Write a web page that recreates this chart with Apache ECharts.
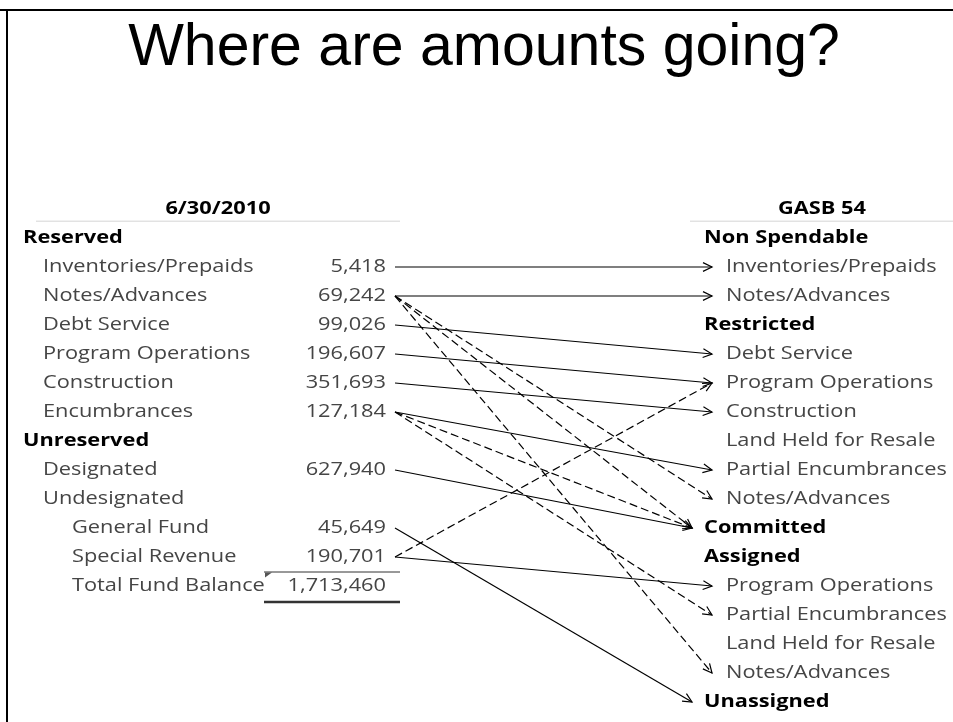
<!DOCTYPE html>
<html>
<head>
<meta charset="utf-8">
<script src="https://cdn.jsdelivr.net/npm/echarts@6/dist/echarts.min.js"></script>
<style>
  html, body { margin: 0; padding: 0; background: #fff; }
  #main { width: 953px; height: 722px; }
</style>
</head>
<body>
<div id="main"></div>
<script>
// rows of the old (6/30/2010) fund balance table
var leftHeader = "6/30/2010";
var leftLabels = ["Reserved", "Inventories/Prepaids", "Notes/Advances", "Debt Service", "Program Operations",
    "Construction", "Encumbrances", "Unreserved", "Designated", "Undesignated", "General Fund",
    "Special Revenue", "Total Fund Balance"];
var leftLevels = [0, 1, 1, 1, 1, 1, 1, 0, 1, 1, 2, 2, 2];
var leftAmounts = [null, 5418, 69242, 99026, 196607, 351693, 127184, null, 627940, null, 45649, 190701, 1713460];

// rows of the GASB 54 classification
var rightHeader = "GASB 54";
var rightLabels = ["Non Spendable", "Inventories/Prepaids", "Notes/Advances", "Restricted", "Debt Service",
    "Program Operations", "Construction", "Land Held for Resale", "Partial Encumbrances", "Notes/Advances",
    "Committed", "Assigned", "Program Operations", "Partial Encumbrances", "Land Held for Resale",
    "Notes/Advances", "Unassigned"];
var rightLevels = [0, 1, 1, 0, 1, 1, 1, 1, 1, 1, 0, 0, 1, 1, 1, 1, 0];

// arrows: left row index -> right row index, dashed = partial move
var linkFrom   = [1, 2, 2, 2, 2, 3, 4, 5, 6, 6, 6, 8, 10, 11, 11];
var linkTo     = [1, 2, 9, 10, 15, 4, 5, 6, 8, 10, 13, 10, 16, 12, 5];
var linkDashed = [0, 0, 1, 1, 1, 0, 0, 0, 0, 1, 1, 0, 0, 0, 1];

// layout (x in pixels of the hidden x axis)
var LEFT_INDENT = [23, 43, 72];
var AMOUNT_RIGHT = 386;
var RIGHT_INDENT = [704, 726];
var LINK_START = 395;
var LINK_END = [692, 712];
var TEXT_SCALE = 1.21;
var FONT = '"Open Sans"';

var chart = echarts.init(document.getElementById("main"));

function fmt(v) {
    return v.toLocaleString("en-US");
}

function textEl(x, y, text, align, bold, color) {
    return {
        type: "text",
        x: x,
        y: y,
        scaleX: TEXT_SCALE,
        style: {
            x: 0, y: 0,
            text: text,
            fill: color || (bold ? "#000" : "#454545"),
            fontSize: 18,
            fontFamily: FONT,
            fontWeight: bold ? "bold" : "normal",
            align: align, textAlign: align,
            verticalAlign: "middle", textVerticalAlign: "middle"
        }
    };
}

function renderLeft(params, api) {
    var row = api.value(0);
    var i = params.dataIndex;
    var lvl = leftLevels[i];
    var p = api.coord([LEFT_INDENT[lvl], row]);
    var children = [textEl(p[0], p[1], leftLabels[i], "left", lvl === 0)];
    if (leftAmounts[i] != null) {
        var q = api.coord([AMOUNT_RIGHT, row]);
        children.push(textEl(q[0], q[1], fmt(leftAmounts[i]), "right", false));
    }
    if (i === leftLabels.length - 1) {
        // total row: rule above, heavy rule below, small corner marker
        var a = api.coord([264, row - 0.5]);
        var b = api.coord([400, row + 0.55]);
        children.push({ type: "line", shape: { x1: a[0], y1: a[1] + 0.5, x2: b[0], y2: a[1] + 0.5 },
            style: { stroke: "#333", lineWidth: 1 } });
        children.push({ type: "line", shape: { x1: a[0], y1: b[1], x2: b[0], y2: b[1] },
            style: { stroke: "#333", lineWidth: 2.5 } });
        children.push({ type: "polygon", shape: { points: [[a[0] + 1, a[1] + 1], [a[0] + 8, a[1] + 1], [a[0] + 1, a[1] + 6]] },
            style: { fill: "#555" } });
    }
    return { type: "group", children: children };
}

function renderRight(params, api) {
    var row = api.value(0);
    var i = params.dataIndex;
    var lvl = rightLevels[i];
    var p = api.coord([RIGHT_INDENT[lvl], row]);
    return textEl(p[0], p[1], rightLabels[i], "left", lvl === 0);
}

function renderHeaders(params, api) {
    var row = api.value(0);
    var l = api.coord([218, row]);
    var r = api.coord([822, row]);
    var l0 = api.coord([36, row + 0.42]);
    var l1 = api.coord([400, row + 0.42]);
    var r0 = api.coord([690, row + 0.42]);
    var r1 = api.coord([953, row + 0.42]);
    return {
        type: "group",
        children: [
            textEl(l[0], l[1], leftHeader, "center", true),
            textEl(r[0], r[1], rightHeader, "center", true),
            { type: "line", shape: { x1: l0[0], y1: l0[1], x2: l1[0], y2: l1[1] }, style: { stroke: "#d4d4d4", lineWidth: 1 } },
            { type: "line", shape: { x1: r0[0], y1: r0[1], x2: r1[0], y2: r1[1] }, style: { stroke: "#d4d4d4", lineWidth: 1 } }
        ]
    };
}

function renderLink(params, api) {
    var from = api.value(0);
    var to = api.value(1);
    var dashed = api.value(2);
    var p1 = api.coord([LINK_START, from]);
    var p2 = api.coord([LINK_END[rightLevels[to]], to]);
    var ang = Math.atan2(p2[1] - p1[1], p2[0] - p1[0]);
    var len = 10, spread = 0.45;
    var h1 = [p2[0] - len * Math.cos(ang - spread), p2[1] - len * Math.sin(ang - spread)];
    var h2 = [p2[0] - len * Math.cos(ang + spread), p2[1] - len * Math.sin(ang + spread)];
    return {
        type: "group",
        children: [
            { type: "line", shape: { x1: p1[0], y1: p1[1], x2: p2[0], y2: p2[1] },
              style: { stroke: "#000", lineWidth: 1.2, lineDash: dashed ? [8, 4] : null } },
            { type: "polyline", shape: { points: [h1, p2, h2] },
              style: { stroke: "#000", lineWidth: 1.2, fill: null } }
        ]
    };
}

var option = {
    animation: false,
    backgroundColor: "#fff",
    grid: { left: 0, right: 0, top: 194.5, bottom: 5.5 },
    xAxis: { type: "value", min: 0, max: 953, show: false },
    yAxis: { type: "value", min: -1.5, max: 16.5, inverse: true, show: false },
    graphic: [
        { type: "line", shape: { x1: 0, y1: 10, x2: 953, y2: 10 }, style: { stroke: "#000", lineWidth: 2 } },
        { type: "line", shape: { x1: 7, y1: 10, x2: 7, y2: 722 }, style: { stroke: "#000", lineWidth: 2 } },
        { type: "text", x: 484, y: 78,
          style: { text: "Where are amounts going?", fill: "#000", fontSize: 59,
                   fontFamily: '"Liberation Sans", Arial', align: "center", textAlign: "center",
                   verticalAlign: "bottom", textVerticalAlign: "bottom" } }
    ],
    series: [
        {
            type: "custom", clip: false, renderItem: renderHeaders,
            data: [[-1]]
        },
        {
            type: "custom", clip: false, renderItem: renderLeft,
            data: leftLabels.map(function (l, i) { return [i]; })
        },
        {
            type: "custom", clip: false, renderItem: renderRight,
            data: rightLabels.map(function (l, i) { return [i]; })
        },
        {
            type: "custom", clip: false, renderItem: renderLink,
            encode: { x: -1, y: [0, 1] },
            data: linkFrom.map(function (f, i) { return [f, linkTo[i], linkDashed[i]]; })
        }
    ]
};

chart.setOption(option);
</script>
</body>
</html>
